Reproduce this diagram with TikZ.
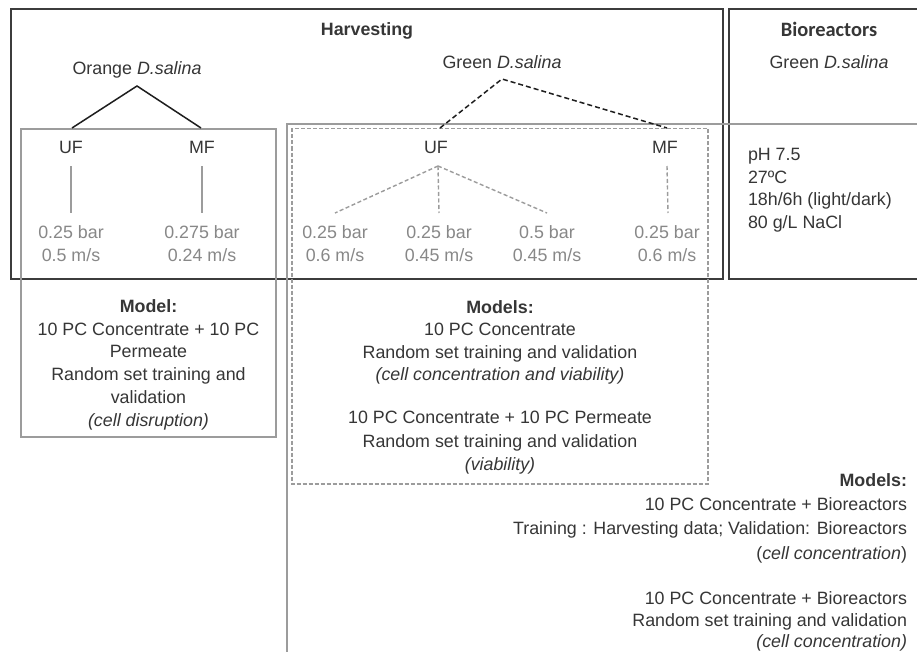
\documentclass[tikz,border=0pt]{standalone}
\usepackage{fontspec}
\setmainfont{Liberation Sans}
\newfontfamily\calfont{Carlito}
\definecolor{txtc}{HTML}{363636}
\definecolor{valc}{HTML}{888888}
\definecolor{darkc}{HTML}{3C3C3C}
\definecolor{grayc}{HTML}{9C9C9C}
\definecolor{treec}{HTML}{1E1E1E}
\begin{document}
\begin{tikzpicture}[x=1bp,y=-1bp,
  lbl/.style={font=\fontsize{17.9pt}{22.6pt}\selectfont, text=txtc, inner sep=0pt, outer sep=0pt},
  hd/.style={lbl, font=\fontsize{17.9pt}{22.6pt}\selectfont\bfseries},
  val/.style={lbl, text=valc, align=center, font=\fontsize{17.9pt}{23.1pt}\selectfont},
  darkbox/.style={draw=darkc, line width=2.2bp},
  graybox/.style={draw=grayc, line width=1.6bp},
  dashbox/.style={draw=grayc, line width=1.4bp, dash pattern=on 4bp off 2bp},
  otree/.style={draw=treec, line width=1.5bp},
  gtree/.style={draw=treec, line width=1.5bp, dash pattern=on 5bp off 3bp},
  vline/.style={draw=grayc, line width=1.4bp},
  fanline/.style={draw=grayc, line width=1.4bp, dash pattern=on 4bp off 2.5bp}
]
\clip (0,0) rectangle (917,652);
\fill[white] (0,0) rectangle (917,652);

% frames
\draw[darkbox] (11,9) rectangle (723,279);
\draw[darkbox] (729,9) rectangle (940,279);
\draw[graybox] (287,670) -- (287,124) -- (940,124);
\draw[graybox] (21,129) rectangle (276,437);
\draw[dashbox] (292,128.5) rectangle (708,484);

% headings
\node[hd, anchor=base] (harv) at (367,35.4) {Harvesting};
\node[lbl, font={\calfont\bfseries\fontsize{20.5pt}{24pt}\selectfont}, anchor=base] (bio) at (829,37) {Bioreactors};
\node[lbl, anchor=base] (orange) at (137,74.4) {Orange \textit{D.salina}};
\node[lbl, anchor=base] (green) at (502,68.4) {Green \textit{D.salina}};
\node[lbl, anchor=base] (bgreen) at (829,68.4) {Green \textit{D.salina}};

% filtration labels
\node[lbl, anchor=base] (uf1) at (71,153.4) {UF};
\node[lbl, anchor=base] (mf1) at (202,153.4) {MF};
\node[lbl, anchor=base] (uf2) at (436,153.4) {UF};
\node[lbl, anchor=base] (mf2) at (665,153.4) {MF};

% values
\node[val, anchor=north] (v1) at (71,225.5) {0.25 bar\\0.5 m/s};
\node[val, anchor=north] (v2) at (202,225.5) {0.275 bar\\0.24 m/s};
\node[val, anchor=north] (v3) at (335,225.5) {0.25 bar\\0.6 m/s};
\node[val, anchor=north] (v4) at (439,225.5) {0.25 bar\\0.45 m/s};
\node[val, anchor=north] (v5) at (547,225.5) {0.5 bar\\0.45 m/s};
\node[val, anchor=north] (v6) at (667,225.5) {0.25 bar\\0.6 m/s};

% bioreactor conditions
\node[lbl, align=left, anchor=north west] (params) at (748,148.5)
  {pH 7.5\\27ºC\\18h/6h (light/dark)\\80 g/L NaCl};

% trees
\coordinate (oapex) at (137,86);
\coordinate (ol) at (72,128);
\coordinate (or) at (201,128);
\draw[otree] (ol) -- (oapex) -- (or);
\coordinate (gapex) at (502,79);
\coordinate (gl) at (440,128);
\coordinate (gr) at (667,128);
\draw[gtree] (gl) -- (gapex) -- (gr);

\draw[vline] ([yshift=-12.6bp]uf1.south) -- ([yshift=12.5bp]v1.north);
\draw[vline] ([yshift=-12.6bp]mf1.south) -- ([yshift=12.5bp]v2.north);
\coordinate (fan) at (438,166);
\draw[fanline] (fan) -- ([yshift=12.5bp]v3.north);
\draw[fanline] (fan) -- ([yshift=12.5bp]v4.north);
\draw[fanline] (fan) -- ([yshift=12.5bp]v5.north);
\draw[fanline] ([yshift=-12.6bp,xshift=2bp]mf2.south) -- ([yshift=12.5bp,xshift=1bp]v6.north);

% models
\node[lbl, align=center, anchor=north, font=\fontsize{17.9pt}{22.8pt}\selectfont] (lmodel) at (148.5,299.5)
  {\textbf{Model:}\\10 PC Concentrate + 10 PC\\Permeate\\Random set training and\\validation\\\textit{(cell disruption)}};
\node[lbl, align=center, anchor=north] (mm1) at (500,300.5)
  {\textbf{Models:}\\10 PC Concentrate\\Random set training and validation\\\textit{(cell concentration and viability)}};
\node[lbl, align=center, anchor=north, font=\fontsize{17.9pt}{23.3pt}\selectfont] (mm2) at (500,411.5)
  {10 PC Concentrate + 10 PC Permeate\\Random set training and validation\\\textit{(viability)}};
\node[lbl, align=right, anchor=north east, font=\fontsize{17.9pt}{24.3pt}\selectfont] (rm1) at (907,473.5)
  {\textbf{Models:}\\10 PC Concentrate + Bioreactors\\Training : Harvesting data; Validation: Bioreactors\\(\textit{cell concentration})};
\node[lbl, align=right, anchor=north east, font=\fontsize{17.9pt}{21.8pt}\selectfont] (rm2) at (907,591.5)
  {10 PC Concentrate + Bioreactors\\Random set training and validation\\\textit{(cell concentration)}};
\end{tikzpicture}
\end{document}
